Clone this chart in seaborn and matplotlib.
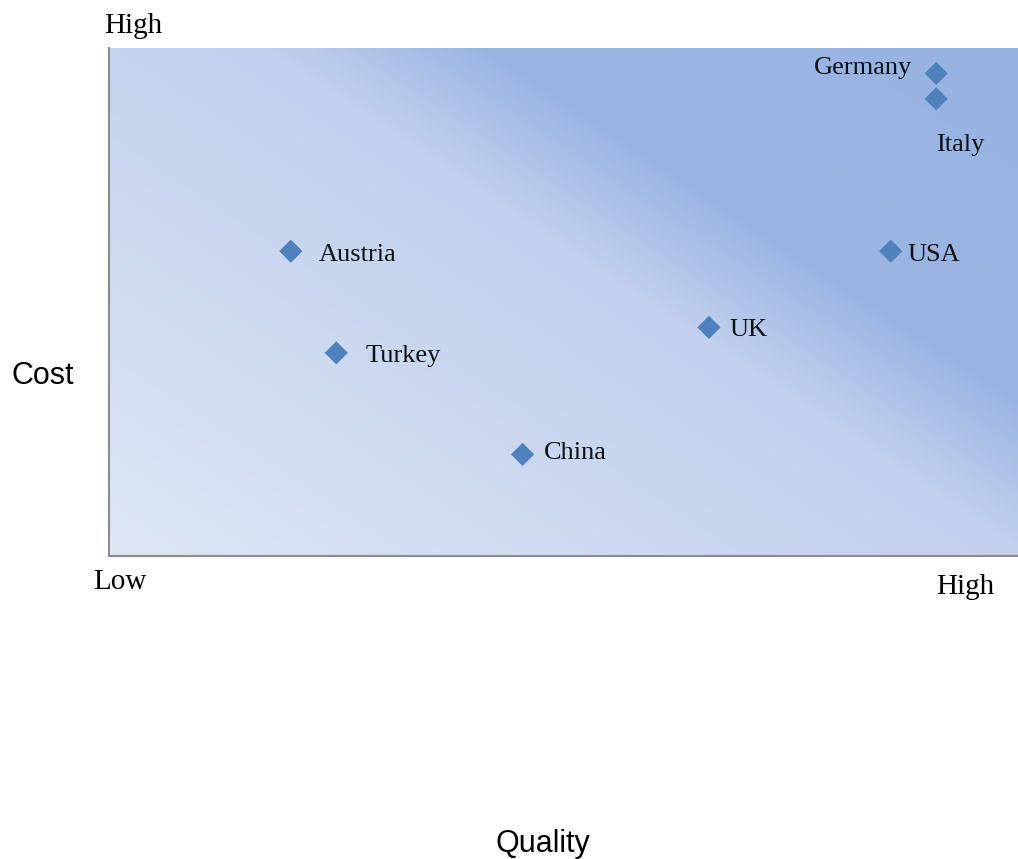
import numpy as np
import pandas as pd
import seaborn as sns
import matplotlib.pyplot as plt
from matplotlib.colors import LinearSegmentedColormap

# データ
countries = ["Germany", "Italy", "USA", "Austria", "UK", "Turkey", "China"]
quality = [9.1, 9.1, 8.6, 2.0, 6.6, 2.5, 4.55]
cost = [9.5, 9.0, 6.0, 6.0, 4.5, 4.0, 2.0]

# ラベルの位置 (offset points, ha, va)
label_pos = {
    "Germany": (-17, 4, "right", "center"),
    "Italy": (0, -33, "left", "center"),
    "USA": (12, -3, "left", "center"),
    "Austria": (20, -3, "left", "center"),
    "UK": (15, -2, "left", "center"),
    "Turkey": (21, -2, "left", "center"),
    "China": (15, 1, "left", "center"),
}

df = pd.DataFrame({"country": countries, "quality": quality, "cost": cost})

sns.set_style("white")
plt.rcParams["font.family"] = ["Liberation Serif", "DejaVu Serif"]
plt.rcParams["text.color"] = "black"

fig = plt.figure(figsize=(10.18, 8.59), dpi=100)
ax = fig.add_axes([109 / 1018, 1 - 556 / 859, 909 / 1018, 508 / 859])

# 背景グラデーション
u, v = np.meshgrid(np.linspace(0, 1, 600), np.linspace(0, 1, 400))
px = 109 + u * 909
py = 556 - v * 508
t = 422 * px - 638 * py
t = (t - t.min()) / (t.max() - t.min())
cmap = LinearSegmentedColormap.from_list(
    "bg",
    [(0.0, "#dfe7f5"), (0.4, "#c8d5ef"), (0.55, "#c2d0ed"),
     (0.68, "#9bb5e3"), (1.0, "#98b2e2")],
)
ax.imshow(t, cmap=cmap, extent=[0, 10, 0, 10], origin="lower",
          aspect="auto", zorder=0, interpolation="bilinear")

sns.scatterplot(data=df, x="quality", y="cost", marker="D", s=140,
                color="#4f81bd", edgecolor="none", ax=ax, zorder=3)

for _, r in df.iterrows():
    dx, dy, ha, va = label_pos[r["country"]]
    ax.annotate(r["country"], (r["quality"], r["cost"]), xytext=(dx, dy),
                textcoords="offset points", ha=ha, va=va, fontsize=19,
                color="#111111")

ax.set_xlim(0, 10)
ax.set_ylim(0, 10)
ax.set_xticks([])
ax.set_yticks([])
ax.set_xlabel("")
ax.set_ylabel("")
for s in ["top", "right"]:
    ax.spines[s].set_visible(False)
for s in ["left", "bottom"]:
    ax.spines[s].set_color("#8c8c8c")
    ax.spines[s].set_linewidth(1.5)

# 軸の端ラベル
fig.text(133 / 1018, 1 - 26 / 859, "High", ha="center", va="center", fontsize=21)
fig.text(120 / 1018, 1 - 582 / 859, "Low", ha="center", va="center", fontsize=21)
fig.text(965 / 1018, 1 - 587 / 859, "High", ha="center", va="center", fontsize=21)

# 軸タイトル
fig.text(43 / 1018, 1 - 376 / 859, "Cost", ha="center", va="center",
         fontsize=22, family=["Liberation Sans", "DejaVu Sans"])
fig.text(543 / 1018, 1 - 844 / 859, "Quality", ha="center", va="center",
         fontsize=22, family=["Liberation Sans", "DejaVu Sans"])

fig.savefig("out.png", dpi=100)
